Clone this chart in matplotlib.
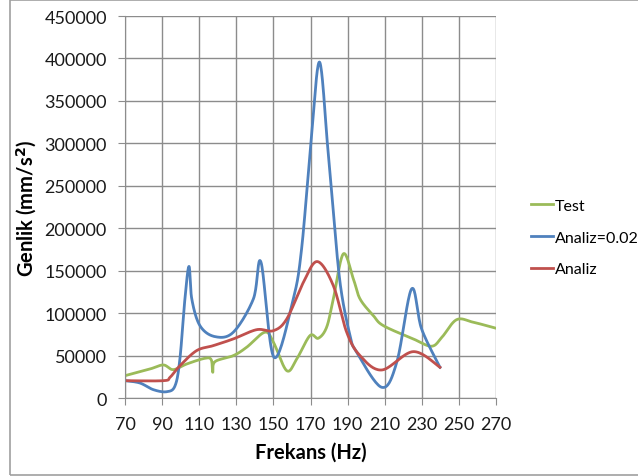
import matplotlib.pyplot as plt
from matplotlib.patches import Rectangle
import numpy as np

plt.rcParams['font.family'] = ['Lato', 'DejaVu Sans']

# Test
test_f = [70, 83.5, 90.7, 96, 103.3, 113.1, 116.5, 117.3, 118.5, 128.4, 135.6, 145.4,
          150, 157.2, 162.6, 169.7, 174.2, 178.7, 182.3, 187.7, 193.1, 196.7, 203.9,
          209.3, 225.4, 235.3, 241, 248.8, 257.8, 270]
test_v = [26300, 34200, 38900, 33400, 40100, 46800, 45000, 30300, 42800, 49900, 59800, 77500,
          65700, 32200, 46000, 73500, 70400, 83400, 116700, 169800, 140300, 116700, 97000,
          85200, 69600, 61000, 72000, 92300, 89200, 82200]

# Analiz=0.02
blue_f = [70, 78, 85.3, 92.5, 97, 99.6, 102.3, 104.5, 106, 110.4, 118.5, 128.4, 139.2,
          143.3, 150.3, 160.7, 165.2, 170.1, 174.8, 179.2, 181.5, 185.9, 191.3,
          194.9, 208.4, 216.5, 224.5, 229.9, 239.8]
blue_v = [20400, 17700, 9800, 7400, 14500, 46000, 116700, 155000, 116700, 85200, 72300,
          77500, 116700, 160000, 48000, 116700, 175700, 297500, 395800, 297500, 240000,
          136400, 73500, 53900, 12600, 42000, 128500, 81300, 36200]

# Analiz
red_f = [70, 90.7, 94.3, 99.6, 108.6, 117.6, 128.4, 141, 150, 157.2, 166.2, 173.7,
         182.3, 189.5, 196.7, 208.4, 225.4, 239.8]
red_v = [20400, 20400, 24400, 38000, 55800, 61700, 69600, 80500, 79300, 93100, 136400,
         160700, 132400, 77500, 49900, 33000, 54600, 36200]


def smooth(xs, ys, n=20):
    # Excel-style smoothed line (Catmull-Rom through the points)
    p = np.column_stack([xs, ys]).astype(float)
    p = np.vstack([p[0], p, p[-1]])
    out = []
    t = np.linspace(0, 1, n, endpoint=False)[:, None]
    for i in range(1, len(p) - 2):
        p0, p1, p2, p3 = p[i - 1], p[i], p[i + 1], p[i + 2]
        seg = 0.5 * (2 * p1 + (-p0 + p2) * t + (2 * p0 - 5 * p1 + 4 * p2 - p3) * t ** 2
                     + (-p0 + 3 * p1 - 3 * p2 + p3) * t ** 3)
        out.append(seg)
    out.append(p[-2][None, :])
    out = np.vstack(out)
    return out[:, 0], out[:, 1]


fig = plt.figure(figsize=(6.38, 4.77), dpi=100)
fig.patches.append(Rectangle((10 / 638, 1 / 477), 1.0, 475 / 477, transform=fig.transFigure,
                             fill=False, edgecolor='#a0a0a0', linewidth=1.2))
ax = fig.add_axes([125 / 638, 1 - 399 / 477, 371 / 638, 382 / 477])

ax.plot(*smooth(test_f, test_v), color='#9bbb59', linewidth=2, label='Test')
ax.plot(*smooth(blue_f, blue_v), color='#4f81bd', linewidth=2, label='Analiz=0.02')
ax.plot(*smooth(red_f, red_v), color='#c0504d', linewidth=2, label='Analiz')

ax.set_xlim(70, 270)
ax.set_ylim(0, 450000)
ax.set_xticks(np.arange(70, 271, 20))
ax.set_yticks(np.arange(0, 450001, 50000))
ax.grid(True, color='#8c8c8c', linewidth=1)
ax.set_axisbelow(True)
for s in ['top', 'right']:
    ax.spines[s].set_visible(False)
for s in ['left', 'bottom']:
    ax.spines[s].set_color('#8c8c8c')
ax.tick_params(axis='both', direction='out', length=5, color='#8c8c8c', labelsize=13,
               labelcolor='#1a1a1a')
ax.tick_params(axis='y', pad=8)
ax.tick_params(axis='x', pad=8)

ax.set_xlabel('Frekans (Hz)', fontsize=14.5, fontweight='bold', labelpad=7)
ax.set_ylabel('Genlik (mm/s$^\\mathbf{2}$)', fontsize=14.5, fontweight='bold', labelpad=4)

ax.legend(loc='center left', bbox_to_anchor=(1.055, 0.42), frameon=False, fontsize=11.5,
          handlelength=1.4, handletextpad=0.1, labelspacing=1.1)

fig.savefig('out.png', dpi=100)
